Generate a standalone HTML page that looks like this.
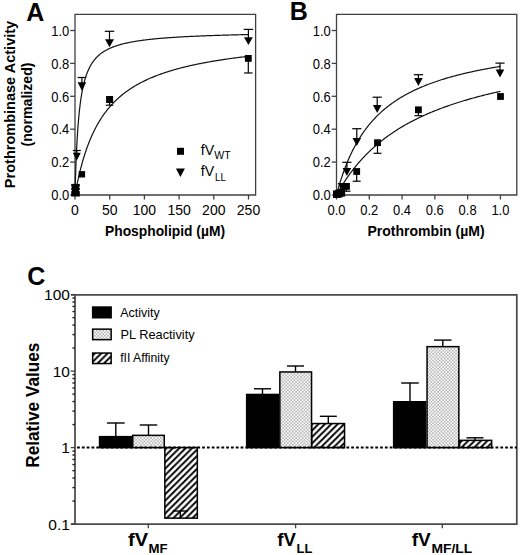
<!DOCTYPE html><html><head><meta charset="utf-8"><style>html,body{margin:0;padding:0;background:#fff;width:520px;height:555px;overflow:hidden}svg{display:block}</style></head><body><svg width="520" height="555" viewBox="0 0 520 555" font-family='"Liberation Sans", sans-serif'>
<defs>
<pattern id="hatch" patternUnits="userSpaceOnUse" width="6.4" height="6.4" x="0.2" y="0"><path d="M-1.6,1.6L1.6,-1.6M0,6.4L6.4,0M4.8,8L8,4.8" stroke="#000" stroke-width="1.9"/></pattern>
<pattern id="dots" patternUnits="userSpaceOnUse" width="3.3" height="3.3" x="0" y="0"><rect x="0.25" y="0.25" width="1.1" height="1.1" fill="#5a5a5a"/><rect x="1.9" y="1.9" width="1.1" height="1.1" fill="#5a5a5a"/></pattern>
</defs>
<rect width="520" height="555" fill="#fff"/>
<text x="26.2" y="20.5" font-size="25" text-anchor="start" font-weight="bold" >A</text>
<path d="M75,14.3H255.6V195H75Z" fill="none" stroke="#404040" stroke-width="1.3"/>
<line x1="70.20" y1="195.00" x2="75.00" y2="195.00" stroke="#404040" stroke-width="1.3" />
<text x="69.3" y="200.2" font-size="14" text-anchor="end" textLength="18" lengthAdjust="spacingAndGlyphs" >0.0</text>
<line x1="70.20" y1="162.10" x2="75.00" y2="162.10" stroke="#404040" stroke-width="1.3" />
<text x="69.3" y="167.3" font-size="14" text-anchor="end" textLength="18" lengthAdjust="spacingAndGlyphs" >0.2</text>
<line x1="70.20" y1="129.20" x2="75.00" y2="129.20" stroke="#404040" stroke-width="1.3" />
<text x="69.3" y="134.4" font-size="14" text-anchor="end" textLength="18" lengthAdjust="spacingAndGlyphs" >0.4</text>
<line x1="70.20" y1="96.30" x2="75.00" y2="96.30" stroke="#404040" stroke-width="1.3" />
<text x="69.3" y="101.5" font-size="14" text-anchor="end" textLength="18" lengthAdjust="spacingAndGlyphs" >0.6</text>
<line x1="70.20" y1="63.40" x2="75.00" y2="63.40" stroke="#404040" stroke-width="1.3" />
<text x="69.3" y="68.6" font-size="14" text-anchor="end" textLength="18" lengthAdjust="spacingAndGlyphs" >0.8</text>
<line x1="70.20" y1="30.50" x2="75.00" y2="30.50" stroke="#404040" stroke-width="1.3" />
<text x="69.3" y="35.7" font-size="14" text-anchor="end" textLength="18" lengthAdjust="spacingAndGlyphs" >1.0</text>
<line x1="75.00" y1="195.00" x2="75.00" y2="199.50" stroke="#404040" stroke-width="1.3" />
<text x="75.0" y="214.6" font-size="14" text-anchor="middle" >0</text>
<line x1="109.70" y1="195.00" x2="109.70" y2="199.50" stroke="#404040" stroke-width="1.3" />
<text x="109.7" y="214.6" font-size="14" text-anchor="middle" >50</text>
<line x1="144.40" y1="195.00" x2="144.40" y2="199.50" stroke="#404040" stroke-width="1.3" />
<text x="144.4" y="214.6" font-size="14" text-anchor="middle" >100</text>
<line x1="179.10" y1="195.00" x2="179.10" y2="199.50" stroke="#404040" stroke-width="1.3" />
<text x="179.1" y="214.6" font-size="14" text-anchor="middle" >150</text>
<line x1="213.80" y1="195.00" x2="213.80" y2="199.50" stroke="#404040" stroke-width="1.3" />
<text x="213.8" y="214.6" font-size="14" text-anchor="middle" >200</text>
<line x1="248.50" y1="195.00" x2="248.50" y2="199.50" stroke="#404040" stroke-width="1.3" />
<text x="248.5" y="214.6" font-size="14" text-anchor="middle" >250</text>
<polyline points="75.00,195.00 75.00,195.00 75.00,194.99 75.00,194.97 75.00,194.93 75.00,194.88 75.00,194.81 75.01,194.73 75.01,194.62 75.01,194.49 75.02,194.33 75.02,194.15 75.03,193.95 75.03,193.72 75.04,193.46 75.05,193.17 75.06,192.86 75.06,192.51 75.07,192.13 75.09,191.73 75.10,191.29 75.11,190.82 75.12,190.32 75.14,189.79 75.15,189.22 75.17,188.63 75.19,188.00 75.21,187.34 75.22,186.64 75.25,185.92 75.27,185.17 75.29,184.38 75.31,183.56 75.34,182.72 75.37,181.84 75.39,180.94 75.42,180.00 75.45,179.04 75.48,178.06 75.52,177.05 75.55,176.01 75.58,174.95 75.62,173.86 75.66,172.75 75.70,171.62 75.74,170.48 75.78,169.31 75.82,168.12 75.87,166.91 75.91,165.69 75.96,164.46 76.01,163.21 76.06,161.94 76.11,160.67 76.16,159.38 76.22,158.09 76.27,156.78 76.33,155.47 76.39,154.15 76.45,152.82 76.51,151.49 76.58,150.16 76.64,148.82 76.71,147.48 76.78,146.14 76.85,144.80 76.92,143.46 76.99,142.12 77.07,140.78 77.14,139.45 77.22,138.12 77.30,136.79 77.38,135.47 77.47,134.15 77.55,132.84 77.64,131.54 77.73,130.25 77.82,128.96 77.91,127.68 78.01,126.41 78.10,125.15 78.20,123.90 78.30,122.66 78.40,121.43 78.51,120.22 78.61,119.01 78.72,117.81 78.83,116.63 78.94,115.46 79.05,114.30 79.17,113.15 79.28,112.02 79.40,110.89 79.52,109.78 79.64,108.69 79.77,107.60 79.90,106.53 80.02,105.48 80.15,104.43 80.29,103.40 80.42,102.39 80.56,101.38 80.70,100.39 80.84,99.41 80.98,98.45 81.13,97.50 81.27,96.56 81.42,95.64 81.57,94.73 81.73,93.83 81.88,92.94 82.04,92.07 82.20,91.21 82.36,90.36 82.52,89.53 82.69,88.71 82.86,87.90 83.03,87.10 83.20,86.31 83.38,85.54 83.55,84.78 83.73,84.03 83.91,83.29 84.10,82.56 84.28,81.84 84.47,81.14 84.66,80.44 84.86,79.76 85.05,79.09 85.25,78.43 85.45,77.78 85.65,77.13 85.85,76.50 86.06,75.88 86.27,75.27 86.48,74.67 86.69,74.08 86.91,73.50 87.13,72.92 87.35,72.36 87.57,71.80 87.80,71.26 88.03,70.72 88.26,70.19 88.49,69.67 88.73,69.16 88.96,68.65 89.21,68.16 89.45,67.67 89.69,67.19 89.94,66.72 90.19,66.25 90.44,65.79 90.70,65.34 90.96,64.90 91.22,64.46 91.48,64.03 91.75,63.61 92.01,63.19 92.28,62.78 92.56,62.38 92.83,61.98 93.11,61.59 93.39,61.21 93.67,60.83 93.96,60.46 94.25,60.09 94.54,59.73 94.83,59.37 95.13,59.02 95.43,58.68 95.73,58.34 96.04,58.01 96.34,57.68 96.65,57.35 96.97,57.04 97.28,56.72 97.60,56.41 97.92,56.11 98.24,55.81 98.57,55.51 98.90,55.22 99.23,54.94 99.56,54.65 99.90,54.38 100.24,54.10 100.58,53.83 100.93,53.57 101.28,53.31 101.63,53.05 101.98,52.80 102.34,52.55 102.70,52.30 103.06,52.06 103.42,51.82 103.79,51.58 104.16,51.35 104.53,51.12 104.91,50.89 105.29,50.67 105.67,50.45 106.06,50.24 106.44,50.02 106.83,49.81 107.23,49.61 107.62,49.40 108.02,49.20 108.43,49.00 108.83,48.81 109.24,48.62 109.65,48.43 110.06,48.24 110.48,48.05 110.90,47.87 111.32,47.69 111.75,47.52 112.18,47.34 112.61,47.17 113.04,47.00 113.48,46.83 113.92,46.67 114.37,46.50 114.81,46.34 115.26,46.18 115.72,46.03 116.17,45.87 116.63,45.72 117.09,45.57 117.56,45.42 118.03,45.28 118.50,45.13 118.97,44.99 119.45,44.85 119.93,44.71 120.41,44.57 120.90,44.44 121.39,44.30 121.88,44.17 122.38,44.04 122.88,43.91 123.38,43.79 123.89,43.66 124.40,43.54 124.91,43.42 125.42,43.30 125.94,43.18 126.46,43.06 126.99,42.95 127.51,42.83 128.05,42.72 128.58,42.61 129.12,42.50 129.66,42.39 130.20,42.28 130.75,42.17 131.30,42.07 131.85,41.97 132.41,41.86 132.97,41.76 133.53,41.66 134.10,41.57 134.67,41.47 135.24,41.37 135.82,41.28 136.40,41.18 136.98,41.09 137.57,41.00 138.16,40.91 138.75,40.82 139.35,40.73 139.95,40.64 140.55,40.56 141.16,40.47 141.77,40.39 142.38,40.30 143.00,40.22 143.62,40.14 144.24,40.06 144.87,39.98 145.50,39.90 146.13,39.82 146.77,39.75 147.41,39.67 148.05,39.60 148.70,39.52 149.35,39.45 150.00,39.38 150.66,39.30 151.32,39.23 151.98,39.16 152.65,39.09 153.32,39.03 154.00,38.96 154.67,38.89 155.36,38.82 156.04,38.76 156.73,38.69 157.42,38.63 158.12,38.57 158.82,38.50 159.52,38.44 160.22,38.38 160.93,38.32 161.65,38.26 162.36,38.20 163.08,38.14 163.81,38.08 164.54,38.03 165.27,37.97 166.00,37.91 166.74,37.86 167.48,37.80 168.23,37.75 168.97,37.69 169.73,37.64 170.48,37.59 171.24,37.53 172.01,37.48 172.77,37.43 173.54,37.38 174.32,37.33 175.09,37.28 175.88,37.23 176.66,37.18 177.45,37.13 178.24,37.09 179.04,37.04 179.84,36.99 180.64,36.95 181.45,36.90 182.26,36.86 183.07,36.81 183.89,36.77 184.71,36.72 185.54,36.68 186.37,36.64 187.20,36.59 188.04,36.55 188.88,36.51 189.72,36.47 190.57,36.43 191.42,36.38 192.28,36.34 193.14,36.30 194.00,36.27 194.87,36.23 195.74,36.19 196.61,36.15 197.49,36.11 198.37,36.07 199.26,36.04 200.15,36.00 201.04,35.96 201.94,35.93 202.84,35.89 203.74,35.85 204.65,35.82 205.56,35.78 206.48,35.75 207.40,35.72 208.32,35.68 209.25,35.65 210.18,35.61 211.12,35.58 212.06,35.55 213.00,35.52 213.95,35.48 214.90,35.45 215.85,35.42 216.81,35.39 217.78,35.36 218.74,35.33 219.71,35.30 220.69,35.27 221.67,35.24 222.65,35.21 223.63,35.18 224.62,35.15 225.62,35.12 226.62,35.09 227.62,35.06 228.63,35.04 229.64,35.01 230.65,34.98 231.67,34.95 232.69,34.93 233.71,34.90 234.74,34.87 235.78,34.85 236.82,34.82 237.86,34.79 238.90,34.77 239.95,34.74 241.01,34.72 242.07,34.69 243.13,34.67 244.19,34.64 245.27,34.62 246.34,34.60 247.42,34.57 248.50,34.55" fill="none" stroke="#111" stroke-width="1.2"/>
<polyline points="75.00,195.00 75.00,194.99 75.00,194.98 75.01,194.95 75.02,194.90 75.03,194.85 75.04,194.78 75.05,194.71 75.07,194.62 75.09,194.51 75.11,194.40 75.13,194.27 75.16,194.14 75.18,193.99 75.21,193.83 75.24,193.65 75.28,193.47 75.31,193.28 75.35,193.07 75.39,192.85 75.43,192.62 75.48,192.38 75.52,192.13 75.57,191.87 75.62,191.60 75.68,191.32 75.73,191.03 75.79,190.72 75.85,190.41 75.91,190.08 75.98,189.75 76.04,189.41 76.11,189.05 76.18,188.69 76.25,188.32 76.33,187.94 76.41,187.55 76.48,187.15 76.57,186.74 76.65,186.32 76.73,185.90 76.82,185.46 76.91,185.02 77.01,184.57 77.10,184.11 77.20,183.65 77.29,183.18 77.40,182.70 77.50,182.21 77.60,181.71 77.71,181.21 77.82,180.70 77.93,180.19 78.05,179.67 78.16,179.14 78.28,178.61 78.40,178.07 78.52,177.53 78.65,176.98 78.77,176.42 78.90,175.86 79.03,175.30 79.17,174.73 79.30,174.15 79.44,173.57 79.58,172.99 79.72,172.40 79.87,171.81 80.01,171.22 80.16,170.62 80.31,170.02 80.47,169.41 80.62,168.80 80.78,168.19 80.94,167.58 81.10,166.96 81.26,166.34 81.43,165.72 81.60,165.09 81.77,164.47 81.94,163.84 82.11,163.21 82.29,162.58 82.47,161.94 82.65,161.31 82.83,160.67 83.02,160.04 83.21,159.40 83.40,158.76 83.59,158.12 83.78,157.48 83.98,156.84 84.18,156.20 84.38,155.56 84.58,154.91 84.79,154.27 84.99,153.63 85.20,152.99 85.41,152.35 85.63,151.71 85.84,151.06 86.06,150.42 86.28,149.79 86.50,149.15 86.73,148.51 86.96,147.87 87.18,147.24 87.42,146.60 87.65,145.97 87.88,145.33 88.12,144.70 88.36,144.07 88.60,143.44 88.85,142.82 89.09,142.19 89.34,141.57 89.59,140.95 89.84,140.33 90.10,139.71 90.36,139.09 90.61,138.48 90.88,137.86 91.14,137.25 91.41,136.65 91.67,136.04 91.94,135.44 92.22,134.83 92.49,134.24 92.77,133.64 93.05,133.04 93.33,132.45 93.61,131.86 93.89,131.28 94.18,130.69 94.47,130.11 94.76,129.53 95.06,128.95 95.35,128.38 95.65,127.81 95.95,127.24 96.25,126.67 96.56,126.11 96.87,125.55 97.17,124.99 97.49,124.44 97.80,123.89 98.11,123.34 98.43,122.79 98.75,122.25 99.07,121.71 99.40,121.17 99.72,120.64 100.05,120.10 100.38,119.58 100.72,119.05 101.05,118.53 101.39,118.01 101.73,117.49 102.07,116.98 102.41,116.47 102.76,115.96 103.11,115.46 103.46,114.95 103.81,114.46 104.17,113.96 104.52,113.47 104.88,112.98 105.24,112.49 105.61,112.01 105.97,111.53 106.34,111.05 106.71,110.58 107.08,110.10 107.45,109.64 107.83,109.17 108.21,108.71 108.59,108.25 108.97,107.79 109.36,107.34 109.74,106.89 110.13,106.44 110.53,106.00 110.92,105.55 111.31,105.11 111.71,104.68 112.11,104.25 112.52,103.82 112.92,103.39 113.33,102.96 113.73,102.54 114.15,102.12 114.56,101.71 114.97,101.29 115.39,100.88 115.81,100.48 116.23,100.07 116.66,99.67 117.08,99.27 117.51,98.88 117.94,98.48 118.38,98.09 118.81,97.70 119.25,97.32 119.69,96.93 120.13,96.55 120.57,96.18 121.02,95.80 121.46,95.43 121.91,95.06 122.37,94.69 122.82,94.33 123.28,93.97 123.74,93.61 124.20,93.25 124.66,92.90 125.13,92.55 125.59,92.20 126.06,91.85 126.53,91.51 127.01,91.16 127.48,90.82 127.96,90.49 128.44,90.15 128.92,89.82 129.41,89.49 129.90,89.16 130.39,88.84 130.88,88.52 131.37,88.19 131.87,87.88 132.36,87.56 132.86,87.25 133.37,86.94 133.87,86.63 134.38,86.32 134.88,86.01 135.40,85.71 135.91,85.41 136.42,85.11 136.94,84.82 137.46,84.52 137.98,84.23 138.51,83.94 139.03,83.65 139.56,83.37 140.09,83.08 140.62,82.80 141.16,82.52 141.69,82.25 142.23,81.97 142.77,81.70 143.32,81.43 143.86,81.16 144.41,80.89 144.96,80.62 145.51,80.36 146.07,80.10 146.62,79.84 147.18,79.58 147.74,79.32 148.30,79.07 148.87,78.81 149.44,78.56 150.01,78.31 150.58,78.07 151.15,77.82 151.73,77.58 152.30,77.33 152.88,77.09 153.47,76.85 154.05,76.62 154.64,76.38 155.23,76.15 155.82,75.92 156.41,75.69 157.01,75.46 157.60,75.23 158.20,75.00 158.80,74.78 159.41,74.56 160.01,74.34 160.62,74.12 161.23,73.90 161.85,73.68 162.46,73.47 163.08,73.26 163.70,73.04 164.32,72.83 164.94,72.63 165.57,72.42 166.20,72.21 166.83,72.01 167.46,71.81 168.09,71.60 168.73,71.40 169.37,71.20 170.01,71.01 170.65,70.81 171.30,70.62 171.94,70.42 172.59,70.23 173.25,70.04 173.90,69.85 174.56,69.66 175.21,69.48 175.87,69.29 176.54,69.11 177.20,68.92 177.87,68.74 178.54,68.56 179.21,68.38 179.88,68.21 180.56,68.03 181.24,67.85 181.92,67.68 182.60,67.51 183.28,67.33 183.97,67.16 184.66,66.99 185.35,66.82 186.04,66.66 186.74,66.49 187.43,66.33 188.13,66.16 188.83,66.00 189.54,65.84 190.24,65.68 190.95,65.52 191.66,65.36 192.37,65.20 193.09,65.04 193.81,64.89 194.52,64.73 195.25,64.58 195.97,64.43 196.69,64.28 197.42,64.13 198.15,63.98 198.88,63.83 199.62,63.68 200.35,63.54 201.09,63.39 201.83,63.25 202.58,63.10 203.32,62.96 204.07,62.82 204.82,62.68 205.57,62.54 206.32,62.40 207.08,62.26 207.84,62.12 208.60,61.99 209.36,61.85 210.12,61.72 210.89,61.58 211.66,61.45 212.43,61.32 213.20,61.19 213.98,61.06 214.76,60.93 215.53,60.80 216.32,60.67 217.10,60.55 217.89,60.42 218.68,60.30 219.47,60.17 220.26,60.05 221.05,59.92 221.85,59.80 222.65,59.68 223.45,59.56 224.25,59.44 225.06,59.32 225.87,59.20 226.68,59.09 227.49,58.97 228.30,58.85 229.12,58.74 229.94,58.62 230.76,58.51 231.58,58.40 232.41,58.28 233.24,58.17 234.07,58.06 234.90,57.95 235.73,57.84 236.57,57.73 237.41,57.62 238.25,57.52 239.09,57.41 239.93,57.30 240.78,57.20 241.63,57.09 242.48,56.99 243.33,56.88 244.19,56.78 245.05,56.68 245.91,56.58 246.77,56.47 247.63,56.37 248.50,56.27" fill="none" stroke="#111" stroke-width="1.2"/>
<line x1="109.50" y1="43.00" x2="109.50" y2="31.30" stroke="#000" stroke-width="1.2" />
<line x1="104.75" y1="31.30" x2="114.25" y2="31.30" stroke="#000" stroke-width="1.2" />
<path d="M105.00,39.20L114.00,39.20L109.50,47.20Z" fill="#000"/>
<line x1="248.40" y1="41.00" x2="248.40" y2="29.40" stroke="#000" stroke-width="1.2" />
<line x1="243.65" y1="29.40" x2="253.15" y2="29.40" stroke="#000" stroke-width="1.2" />
<path d="M244.00,37.20L252.80,37.20L248.40,45.00Z" fill="#000"/>
<line x1="81.90" y1="86.00" x2="81.90" y2="77.50" stroke="#000" stroke-width="1.2" />
<line x1="77.55" y1="77.50" x2="86.25" y2="77.50" stroke="#000" stroke-width="1.2" />
<path d="M77.60,82.30L86.20,82.30L81.90,90.80Z" fill="#000"/>
<line x1="76.80" y1="157.00" x2="76.80" y2="150.50" stroke="#000" stroke-width="1.2" />
<line x1="72.80" y1="150.50" x2="80.80" y2="150.50" stroke="#000" stroke-width="1.2" />
<path d="M72.80,152.70L80.80,152.70L76.80,160.50Z" fill="#000"/>
<rect x="106.10" y="96.00" width="7" height="7" fill="#000"/>
<line x1="109.60" y1="99.50" x2="109.60" y2="105.20" stroke="#000" stroke-width="1.2" />
<line x1="105.85" y1="105.20" x2="113.35" y2="105.20" stroke="#000" stroke-width="1.2" />
<rect x="244.90" y="55.00" width="6.8" height="6.8" fill="#000"/>
<line x1="248.30" y1="58.40" x2="248.30" y2="73.00" stroke="#000" stroke-width="1.2" />
<line x1="244.05" y1="73.00" x2="252.55" y2="73.00" stroke="#000" stroke-width="1.2" />
<rect x="78.70" y="171.10" width="6.4" height="6.4" fill="#000"/>
<rect x="71.2" y="183.9" width="8.6" height="12.6" fill="#000"/>
<rect x="70.9" y="186.6" width="1.0" height="1.1" fill="#fff"/>
<rect x="79.1" y="186.6" width="1.0" height="1.1" fill="#fff"/>
<rect x="70.9" y="190.0" width="1.0" height="1.1" fill="#fff"/>
<rect x="79.1" y="190.0" width="1.0" height="1.1" fill="#fff"/>
<rect x="177.00" y="147.80" width="7" height="7" fill="#000"/>
<path d="M175.90,168.50L184.90,168.50L180.40,177.10Z" fill="#000"/>
<text x="200.8" y="154.5" font-size="14.5" text-anchor="start" textLength="13.4" lengthAdjust="spacingAndGlyphs" >fV</text>
<text x="214.2" y="159.2" font-size="11.2" text-anchor="start" textLength="16.4" lengthAdjust="spacingAndGlyphs" >WT</text>
<text x="200.8" y="175.8" font-size="14.5" text-anchor="start" textLength="13.4" lengthAdjust="spacingAndGlyphs" >fV</text>
<text x="215" y="181.2" font-size="11.2" text-anchor="start" textLength="10.8" lengthAdjust="spacingAndGlyphs" >LL</text>
<text x="105" y="235.7" font-size="15" text-anchor="start" font-weight="bold" textLength="120" lengthAdjust="spacingAndGlyphs" >Phospholipid (µM)</text>
<g transform="translate(14.9,104.5) rotate(-90)">
<text x="0" y="0" font-size="15" text-anchor="middle" font-weight="bold" textLength="167.3" lengthAdjust="spacingAndGlyphs" >Prothrombinase Activity</text>
</g>
<g transform="translate(31.5,104.5) rotate(-90)">
<text x="0" y="0" font-size="15" text-anchor="middle" font-weight="bold" textLength="84" lengthAdjust="spacingAndGlyphs" >(normalized)</text>
</g>
<text x="289.8" y="20.2" font-size="25" text-anchor="start" font-weight="bold" >B</text>
<path d="M336.5,14.3H516.8V195H336.5Z" fill="none" stroke="#404040" stroke-width="1.3"/>
<line x1="331.70" y1="195.00" x2="336.50" y2="195.00" stroke="#404040" stroke-width="1.3" />
<text x="330.8" y="200.2" font-size="14" text-anchor="end" textLength="18" lengthAdjust="spacingAndGlyphs" >0.0</text>
<line x1="331.70" y1="162.10" x2="336.50" y2="162.10" stroke="#404040" stroke-width="1.3" />
<text x="330.8" y="167.3" font-size="14" text-anchor="end" textLength="18" lengthAdjust="spacingAndGlyphs" >0.2</text>
<line x1="331.70" y1="129.20" x2="336.50" y2="129.20" stroke="#404040" stroke-width="1.3" />
<text x="330.8" y="134.4" font-size="14" text-anchor="end" textLength="18" lengthAdjust="spacingAndGlyphs" >0.4</text>
<line x1="331.70" y1="96.30" x2="336.50" y2="96.30" stroke="#404040" stroke-width="1.3" />
<text x="330.8" y="101.5" font-size="14" text-anchor="end" textLength="18" lengthAdjust="spacingAndGlyphs" >0.6</text>
<line x1="331.70" y1="63.40" x2="336.50" y2="63.40" stroke="#404040" stroke-width="1.3" />
<text x="330.8" y="68.6" font-size="14" text-anchor="end" textLength="18" lengthAdjust="spacingAndGlyphs" >0.8</text>
<line x1="331.70" y1="30.50" x2="336.50" y2="30.50" stroke="#404040" stroke-width="1.3" />
<text x="330.8" y="35.7" font-size="14" text-anchor="end" textLength="18" lengthAdjust="spacingAndGlyphs" >1.0</text>
<line x1="336.50" y1="195.00" x2="336.50" y2="199.50" stroke="#404040" stroke-width="1.3" />
<text x="336.5" y="214.6" font-size="14" text-anchor="middle" textLength="18" lengthAdjust="spacingAndGlyphs" >0.0</text>
<line x1="369.28" y1="195.00" x2="369.28" y2="199.50" stroke="#404040" stroke-width="1.3" />
<text x="369.28" y="214.6" font-size="14" text-anchor="middle" textLength="18" lengthAdjust="spacingAndGlyphs" >0.2</text>
<line x1="402.06" y1="195.00" x2="402.06" y2="199.50" stroke="#404040" stroke-width="1.3" />
<text x="402.06" y="214.6" font-size="14" text-anchor="middle" textLength="18" lengthAdjust="spacingAndGlyphs" >0.4</text>
<line x1="434.84" y1="195.00" x2="434.84" y2="199.50" stroke="#404040" stroke-width="1.3" />
<text x="434.84" y="214.6" font-size="14" text-anchor="middle" textLength="18" lengthAdjust="spacingAndGlyphs" >0.6</text>
<line x1="467.62" y1="195.00" x2="467.62" y2="199.50" stroke="#404040" stroke-width="1.3" />
<text x="467.62" y="214.6" font-size="14" text-anchor="middle" textLength="18" lengthAdjust="spacingAndGlyphs" >0.8</text>
<line x1="500.40" y1="195.00" x2="500.40" y2="199.50" stroke="#404040" stroke-width="1.3" />
<text x="500.4" y="214.6" font-size="14" text-anchor="middle" textLength="18" lengthAdjust="spacingAndGlyphs" >1.0</text>
<polyline points="336.50,195.00 336.52,194.93 336.55,194.79 336.60,194.61 336.66,194.38 336.73,194.11 336.81,193.82 336.90,193.49 337.00,193.13 337.10,192.75 337.21,192.35 337.33,191.92 337.45,191.47 337.58,190.99 337.72,190.50 337.86,190.00 338.01,189.47 338.16,188.93 338.32,188.37 338.48,187.80 338.65,187.21 338.83,186.61 339.01,186.00 339.19,185.37 339.38,184.74 339.58,184.09 339.77,183.44 339.98,182.77 340.19,182.10 340.40,181.42 340.62,180.72 340.84,180.03 341.06,179.32 341.30,178.61 341.53,177.89 341.77,177.17 342.01,176.44 342.26,175.71 342.51,174.97 342.76,174.23 343.02,173.49 343.29,172.74 343.55,171.99 343.82,171.24 344.10,170.48 344.38,169.72 344.66,168.96 344.94,168.20 345.23,167.44 345.53,166.68 345.82,165.92 346.12,165.15 346.43,164.39 346.73,163.62 347.04,162.86 347.36,162.10 347.68,161.33 348.00,160.57 348.32,159.81 348.65,159.05 348.98,158.30 349.31,157.54 349.65,156.78 349.99,156.03 350.34,155.28 350.69,154.53 351.04,153.79 351.39,153.04 351.75,152.30 352.11,151.56 352.47,150.83 352.84,150.09 353.21,149.36 353.58,148.64 353.96,147.91 354.34,147.19 354.72,146.48 355.10,145.76 355.49,145.05 355.88,144.34 356.28,143.64 356.67,142.94 357.07,142.24 357.48,141.55 357.88,140.86 358.29,140.18 358.70,139.50 359.12,138.82 359.53,138.15 359.95,137.48 360.38,136.81 360.80,136.15 361.23,135.50 361.66,134.84 362.10,134.20 362.53,133.55 362.97,132.91 363.42,132.27 363.86,131.64 364.31,131.01 364.76,130.39 365.21,129.77 365.67,129.16 366.13,128.54 366.59,127.94 367.06,127.34 367.52,126.74 367.99,126.14 368.46,125.55 368.94,124.97 369.42,124.39 369.90,123.81 370.38,123.23 370.86,122.67 371.35,122.10 371.84,121.54 372.34,120.98 372.83,120.43 373.33,119.88 373.83,119.34 374.33,118.80 374.84,118.26 375.35,117.73 375.86,117.20 376.37,116.68 376.89,116.16 377.41,115.64 377.93,115.13 378.45,114.62 378.97,114.12 379.50,113.62 380.03,113.12 380.57,112.63 381.10,112.14 381.64,111.65 382.18,111.17 382.72,110.69 383.27,110.22 383.81,109.75 384.36,109.28 384.92,108.82 385.47,108.36 386.03,107.91 386.59,107.45 387.15,107.00 387.71,106.56 388.28,106.12 388.85,105.68 389.42,105.25 389.99,104.81 390.57,104.39 391.14,103.96 391.72,103.54 392.31,103.12 392.89,102.71 393.48,102.30 394.07,101.89 394.66,101.49 395.25,101.08 395.85,100.69 396.45,100.29 397.05,99.90 397.65,99.51 398.26,99.12 398.86,98.74 399.47,98.36 400.09,97.99 400.70,97.61 401.32,97.24 401.93,96.87 402.55,96.51 403.18,96.15 403.80,95.79 404.43,95.43 405.06,95.08 405.69,94.73 406.32,94.38 406.96,94.03 407.60,93.69 408.24,93.35 408.88,93.01 409.52,92.68 410.17,92.35 410.82,92.02 411.47,91.69 412.12,91.37 412.78,91.04 413.44,90.72 414.10,90.41 414.76,90.09 415.42,89.78 416.09,89.47 416.75,89.16 417.42,88.86 418.10,88.56 418.77,88.26 419.45,87.96 420.12,87.66 420.80,87.37 421.49,87.08 422.17,86.79 422.86,86.51 423.55,86.22 424.24,85.94 424.93,85.66 425.62,85.38 426.32,85.11 427.02,84.83 427.72,84.56 428.42,84.29 429.13,84.02 429.83,83.76 430.54,83.49 431.25,83.23 431.97,82.97 432.68,82.72 433.40,82.46 434.12,82.21 434.84,81.96 435.56,81.71 436.28,81.46 437.01,81.21 437.74,80.97 438.47,80.72 439.20,80.48 439.94,80.24 440.67,80.01 441.41,79.77 442.15,79.54 442.90,79.31 443.64,79.08 444.39,78.85 445.13,78.62 445.88,78.39 446.64,78.17 447.39,77.95 448.15,77.73 448.90,77.51 449.66,77.29 450.43,77.08 451.19,76.86 451.95,76.65 452.72,76.44 453.49,76.23 454.26,76.02 455.04,75.81 455.81,75.61 456.59,75.41 457.37,75.20 458.15,75.00 458.93,74.80 459.71,74.61 460.50,74.41 461.29,74.21 462.08,74.02 462.87,73.83 463.67,73.64 464.46,73.45 465.26,73.26 466.06,73.07 466.86,72.89 467.66,72.70 468.47,72.52 469.27,72.34 470.08,72.16 470.89,71.98 471.71,71.80 472.52,71.62 473.34,71.45 474.15,71.27 474.97,71.10 475.80,70.93 476.62,70.75 477.44,70.58 478.27,70.42 479.10,70.25 479.93,70.08 480.76,69.92 481.60,69.75 482.43,69.59 483.27,69.43 484.11,69.27 484.95,69.11 485.79,68.95 486.64,68.79 487.49,68.63 488.33,68.48 489.18,68.32 490.04,68.17 490.89,68.02 491.75,67.87 492.60,67.71 493.46,67.56 494.32,67.42 495.19,67.27 496.05,67.12 496.92,66.98 497.79,66.83 498.66,66.69 499.53,66.54 500.40,66.40" fill="none" stroke="#111" stroke-width="1.2"/>
<polyline points="336.50,195.00 336.52,194.97 336.55,194.90 336.60,194.81 336.66,194.70 336.73,194.57 336.81,194.43 336.90,194.27 337.00,194.10 337.10,193.91 337.21,193.71 337.33,193.50 337.45,193.28 337.58,193.05 337.72,192.81 337.86,192.56 338.01,192.30 338.16,192.03 338.32,191.75 338.48,191.46 338.65,191.17 338.83,190.86 339.01,190.55 339.19,190.23 339.38,189.91 339.58,189.58 339.77,189.24 339.98,188.89 340.19,188.54 340.40,188.19 340.62,187.82 340.84,187.46 341.06,187.08 341.30,186.70 341.53,186.32 341.77,185.93 342.01,185.54 342.26,185.14 342.51,184.74 342.76,184.33 343.02,183.92 343.29,183.51 343.55,183.09 343.82,182.67 344.10,182.25 344.38,181.82 344.66,181.39 344.94,180.95 345.23,180.51 345.53,180.07 345.82,179.63 346.12,179.19 346.43,178.74 346.73,178.29 347.04,177.83 347.36,177.38 347.68,176.92 348.00,176.47 348.32,176.00 348.65,175.54 348.98,175.08 349.31,174.61 349.65,174.15 349.99,173.68 350.34,173.21 350.69,172.74 351.04,172.27 351.39,171.79 351.75,171.32 352.11,170.85 352.47,170.37 352.84,169.90 353.21,169.42 353.58,168.94 353.96,168.47 354.34,167.99 354.72,167.51 355.10,167.03 355.49,166.55 355.88,166.07 356.28,165.59 356.67,165.11 357.07,164.64 357.48,164.16 357.88,163.68 358.29,163.20 358.70,162.72 359.12,162.24 359.53,161.76 359.95,161.29 360.38,160.81 360.80,160.33 361.23,159.86 361.66,159.38 362.10,158.91 362.53,158.43 362.97,157.96 363.42,157.49 363.86,157.01 364.31,156.54 364.76,156.07 365.21,155.60 365.67,155.14 366.13,154.67 366.59,154.20 367.06,153.74 367.52,153.27 367.99,152.81 368.46,152.34 368.94,151.88 369.42,151.42 369.90,150.96 370.38,150.51 370.86,150.05 371.35,149.59 371.84,149.14 372.34,148.69 372.83,148.24 373.33,147.78 373.83,147.34 374.33,146.89 374.84,146.44 375.35,146.00 375.86,145.55 376.37,145.11 376.89,144.67 377.41,144.23 377.93,143.80 378.45,143.36 378.97,142.92 379.50,142.49 380.03,142.06 380.57,141.63 381.10,141.20 381.64,140.77 382.18,140.35 382.72,139.93 383.27,139.50 383.81,139.08 384.36,138.66 384.92,138.25 385.47,137.83 386.03,137.42 386.59,137.00 387.15,136.59 387.71,136.18 388.28,135.78 388.85,135.37 389.42,134.97 389.99,134.57 390.57,134.16 391.14,133.77 391.72,133.37 392.31,132.97 392.89,132.58 393.48,132.19 394.07,131.79 394.66,131.41 395.25,131.02 395.85,130.63 396.45,130.25 397.05,129.87 397.65,129.49 398.26,129.11 398.86,128.73 399.47,128.35 400.09,127.98 400.70,127.61 401.32,127.24 401.93,126.87 402.55,126.50 403.18,126.14 403.80,125.77 404.43,125.41 405.06,125.05 405.69,124.69 406.32,124.34 406.96,123.98 407.60,123.63 408.24,123.27 408.88,122.92 409.52,122.58 410.17,122.23 410.82,121.88 411.47,121.54 412.12,121.20 412.78,120.86 413.44,120.52 414.10,120.18 414.76,119.85 415.42,119.51 416.09,119.18 416.75,118.85 417.42,118.52 418.10,118.19 418.77,117.87 419.45,117.54 420.12,117.22 420.80,116.90 421.49,116.58 422.17,116.26 422.86,115.94 423.55,115.63 424.24,115.32 424.93,115.00 425.62,114.69 426.32,114.39 427.02,114.08 427.72,113.77 428.42,113.47 429.13,113.17 429.83,112.87 430.54,112.57 431.25,112.27 431.97,111.97 432.68,111.68 433.40,111.38 434.12,111.09 434.84,110.80 435.56,110.51 436.28,110.22 437.01,109.94 437.74,109.65 438.47,109.37 439.20,109.09 439.94,108.81 440.67,108.53 441.41,108.25 442.15,107.97 442.90,107.70 443.64,107.43 444.39,107.15 445.13,106.88 445.88,106.61 446.64,106.35 447.39,106.08 448.15,105.81 448.90,105.55 449.66,105.29 450.43,105.03 451.19,104.77 451.95,104.51 452.72,104.25 453.49,103.99 454.26,103.74 455.04,103.49 455.81,103.23 456.59,102.98 457.37,102.73 458.15,102.49 458.93,102.24 459.71,101.99 460.50,101.75 461.29,101.50 462.08,101.26 462.87,101.02 463.67,100.78 464.46,100.54 465.26,100.31 466.06,100.07 466.86,99.84 467.66,99.60 468.47,99.37 469.27,99.14 470.08,98.91 470.89,98.68 471.71,98.45 472.52,98.23 473.34,98.00 474.15,97.78 474.97,97.55 475.80,97.33 476.62,97.11 477.44,96.89 478.27,96.67 479.10,96.45 479.93,96.24 480.76,96.02 481.60,95.81 482.43,95.59 483.27,95.38 484.11,95.17 484.95,94.96 485.79,94.75 486.64,94.54 487.49,94.34 488.33,94.13 489.18,93.93 490.04,93.72 490.89,93.52 491.75,93.32 492.60,93.12 493.46,92.92 494.32,92.72 495.19,92.52 496.05,92.32 496.92,92.13 497.79,91.93 498.66,91.74 499.53,91.55 500.40,91.35" fill="none" stroke="#111" stroke-width="1.2"/>
<line x1="356.80" y1="141.90" x2="356.80" y2="128.70" stroke="#000" stroke-width="1.2" />
<line x1="352.20" y1="128.70" x2="361.40" y2="128.70" stroke="#000" stroke-width="1.2" />
<path d="M352.50,137.90L361.10,137.90L356.80,145.90Z" fill="#000"/>
<line x1="377.20" y1="109.00" x2="377.20" y2="97.20" stroke="#000" stroke-width="1.2" />
<line x1="372.60" y1="97.20" x2="381.80" y2="97.20" stroke="#000" stroke-width="1.2" />
<path d="M372.90,105.00L381.50,105.00L377.20,113.00Z" fill="#000"/>
<line x1="418.40" y1="82.10" x2="418.40" y2="74.70" stroke="#000" stroke-width="1.2" />
<line x1="413.80" y1="74.70" x2="423.00" y2="74.70" stroke="#000" stroke-width="1.2" />
<path d="M414.10,78.10L422.70,78.10L418.40,86.10Z" fill="#000"/>
<line x1="500.00" y1="73.40" x2="500.00" y2="63.10" stroke="#000" stroke-width="1.2" />
<line x1="495.40" y1="63.10" x2="504.60" y2="63.10" stroke="#000" stroke-width="1.2" />
<path d="M495.70,69.40L504.30,69.40L500.00,77.40Z" fill="#000"/>
<line x1="346.90" y1="172.10" x2="346.90" y2="162.30" stroke="#000" stroke-width="1.2" />
<line x1="342.30" y1="162.30" x2="351.50" y2="162.30" stroke="#000" stroke-width="1.2" />
<path d="M342.60,168.10L351.20,168.10L346.90,176.10Z" fill="#000"/>
<path d="M337.70,183.00L346.30,183.00L342.00,191.00Z" fill="#000"/>
<line x1="377.50" y1="142.70" x2="377.50" y2="153.30" stroke="#000" stroke-width="1.2" />
<line x1="373.50" y1="153.30" x2="381.50" y2="153.30" stroke="#000" stroke-width="1.2" />
<rect x="374.10" y="139.30" width="6.8" height="6.8" fill="#000"/>
<line x1="418.40" y1="109.80" x2="418.40" y2="115.70" stroke="#000" stroke-width="1.2" />
<line x1="414.40" y1="115.70" x2="422.40" y2="115.70" stroke="#000" stroke-width="1.2" />
<rect x="415.00" y="106.40" width="6.8" height="6.8" fill="#000"/>
<rect x="497.10" y="93.10" width="6.8" height="6.8" fill="#000"/>
<line x1="356.70" y1="171.50" x2="356.70" y2="181.20" stroke="#000" stroke-width="1.2" />
<line x1="352.70" y1="181.20" x2="360.70" y2="181.20" stroke="#000" stroke-width="1.2" />
<rect x="353.30" y="168.10" width="6.8" height="6.8" fill="#000"/>
<line x1="346.50" y1="186.40" x2="346.50" y2="191.20" stroke="#000" stroke-width="1.2" />
<line x1="342.50" y1="191.20" x2="350.50" y2="191.20" stroke="#000" stroke-width="1.2" />
<rect x="343.10" y="183.00" width="6.8" height="6.8" fill="#000"/>
<rect x="333.00" y="190.40" width="7.6" height="7.6" fill="#000"/>
<rect x="335.20" y="189.80" width="7.6" height="7.6" fill="#000"/>
<rect x="337.50" y="189.00" width="7.6" height="7.6" fill="#000"/>
<text x="367.5" y="235.7" font-size="15" text-anchor="start" font-weight="bold" textLength="117.1" lengthAdjust="spacingAndGlyphs" >Prothrombin (µM)</text>
<text x="27.3" y="285.3" font-size="25" text-anchor="start" font-weight="bold" >C</text>
<path d="M71,294.8H516.8V524H71" fill="none" stroke="#4a4a4a" stroke-width="1.75"/>
<line x1="75.00" y1="294.80" x2="75.00" y2="524.00" stroke="#4a4a4a" stroke-width="1.75" />
<line x1="72.40" y1="501.07" x2="75.00" y2="501.07" stroke="#222" stroke-width="1.4" />
<line x1="72.40" y1="487.60" x2="75.00" y2="487.60" stroke="#222" stroke-width="1.4" />
<line x1="72.40" y1="478.04" x2="75.00" y2="478.04" stroke="#222" stroke-width="1.4" />
<line x1="72.40" y1="470.63" x2="75.00" y2="470.63" stroke="#222" stroke-width="1.4" />
<line x1="72.40" y1="464.57" x2="75.00" y2="464.57" stroke="#222" stroke-width="1.4" />
<line x1="72.40" y1="459.45" x2="75.00" y2="459.45" stroke="#222" stroke-width="1.4" />
<line x1="72.40" y1="455.01" x2="75.00" y2="455.01" stroke="#222" stroke-width="1.4" />
<line x1="72.40" y1="451.10" x2="75.00" y2="451.10" stroke="#222" stroke-width="1.4" />
<line x1="72.40" y1="424.57" x2="75.00" y2="424.57" stroke="#222" stroke-width="1.4" />
<line x1="72.40" y1="411.10" x2="75.00" y2="411.10" stroke="#222" stroke-width="1.4" />
<line x1="72.40" y1="401.54" x2="75.00" y2="401.54" stroke="#222" stroke-width="1.4" />
<line x1="72.40" y1="394.13" x2="75.00" y2="394.13" stroke="#222" stroke-width="1.4" />
<line x1="72.40" y1="388.07" x2="75.00" y2="388.07" stroke="#222" stroke-width="1.4" />
<line x1="72.40" y1="382.95" x2="75.00" y2="382.95" stroke="#222" stroke-width="1.4" />
<line x1="72.40" y1="378.51" x2="75.00" y2="378.51" stroke="#222" stroke-width="1.4" />
<line x1="72.40" y1="374.60" x2="75.00" y2="374.60" stroke="#222" stroke-width="1.4" />
<line x1="72.40" y1="348.07" x2="75.00" y2="348.07" stroke="#222" stroke-width="1.4" />
<line x1="72.40" y1="334.60" x2="75.00" y2="334.60" stroke="#222" stroke-width="1.4" />
<line x1="72.40" y1="325.04" x2="75.00" y2="325.04" stroke="#222" stroke-width="1.4" />
<line x1="72.40" y1="317.63" x2="75.00" y2="317.63" stroke="#222" stroke-width="1.4" />
<line x1="72.40" y1="311.57" x2="75.00" y2="311.57" stroke="#222" stroke-width="1.4" />
<line x1="72.40" y1="306.45" x2="75.00" y2="306.45" stroke="#222" stroke-width="1.4" />
<line x1="72.40" y1="302.01" x2="75.00" y2="302.01" stroke="#222" stroke-width="1.4" />
<line x1="72.40" y1="298.10" x2="75.00" y2="298.10" stroke="#222" stroke-width="1.4" />
<line x1="70.80" y1="294.60" x2="75.00" y2="294.60" stroke="#404040" stroke-width="1.3" />
<text x="69.9" y="300.1" font-size="15.5" text-anchor="end" >100</text>
<line x1="70.80" y1="371.10" x2="75.00" y2="371.10" stroke="#404040" stroke-width="1.3" />
<text x="69.9" y="376.6" font-size="15.5" text-anchor="end" >10</text>
<line x1="70.80" y1="447.60" x2="75.00" y2="447.60" stroke="#404040" stroke-width="1.3" />
<text x="69.9" y="453.1" font-size="15.5" text-anchor="end" >1</text>
<line x1="70.80" y1="524.10" x2="75.00" y2="524.10" stroke="#404040" stroke-width="1.3" />
<text x="69.9" y="529.6" font-size="15.5" text-anchor="end" >0.1</text>
<line x1="148.30" y1="524.00" x2="148.30" y2="528.30" stroke="#404040" stroke-width="1.3" />
<line x1="295.60" y1="524.00" x2="295.60" y2="528.30" stroke="#404040" stroke-width="1.3" />
<line x1="442.30" y1="524.00" x2="442.30" y2="528.30" stroke="#404040" stroke-width="1.3" />
<line x1="75.00" y1="447.50" x2="517.00" y2="447.50" stroke="#000" stroke-width="1.9" stroke-dasharray="2.8 2.01" stroke-dashoffset="2.77"/>
<line x1="115.80" y1="436.00" x2="115.80" y2="423.00" stroke="#000" stroke-width="1.4" />
<line x1="106.95" y1="423.00" x2="124.65" y2="423.00" stroke="#000" stroke-width="1.4" />
<rect x="98.80" y="435.90" width="33.20" height="12.50" fill="#000"/>
<line x1="148.50" y1="435.00" x2="148.50" y2="425.00" stroke="#000" stroke-width="1.4" />
<line x1="139.75" y1="425.00" x2="157.25" y2="425.00" stroke="#000" stroke-width="1.4" />
<rect x="132.75" y="435.35" width="31.50" height="12.30" fill="url(#dots)" stroke="#000" stroke-width="1.5"/>
<rect x="164.85" y="447.55" width="32.50" height="70.60" fill="url(#hatch)" stroke="#000" stroke-width="1.5"/>
<line x1="180.30" y1="518.00" x2="180.30" y2="511.00" stroke="#000" stroke-width="1.4" />
<line x1="172.55" y1="511.00" x2="188.05" y2="511.00" stroke="#000" stroke-width="1.4" />
<line x1="262.50" y1="394.00" x2="262.50" y2="388.80" stroke="#000" stroke-width="1.4" />
<line x1="254.00" y1="388.80" x2="271.00" y2="388.80" stroke="#000" stroke-width="1.4" />
<rect x="245.90" y="393.70" width="33.20" height="54.70" fill="#000"/>
<line x1="295.50" y1="372.00" x2="295.50" y2="366.00" stroke="#000" stroke-width="1.4" />
<line x1="287.00" y1="366.00" x2="304.00" y2="366.00" stroke="#000" stroke-width="1.4" />
<rect x="279.85" y="371.95" width="31.70" height="75.70" fill="url(#dots)" stroke="#000" stroke-width="1.5"/>
<line x1="328.30" y1="423.50" x2="328.30" y2="416.30" stroke="#000" stroke-width="1.4" />
<line x1="319.80" y1="416.30" x2="336.80" y2="416.30" stroke="#000" stroke-width="1.4" />
<rect x="311.75" y="423.55" width="32.80" height="24.10" fill="url(#hatch)" stroke="#000" stroke-width="1.5"/>
<line x1="410.00" y1="401.50" x2="410.00" y2="383.00" stroke="#000" stroke-width="1.4" />
<line x1="401.20" y1="383.00" x2="418.80" y2="383.00" stroke="#000" stroke-width="1.4" />
<rect x="392.90" y="401.00" width="33.40" height="47.40" fill="#000"/>
<line x1="442.80" y1="346.50" x2="442.80" y2="340.10" stroke="#000" stroke-width="1.4" />
<line x1="434.10" y1="340.10" x2="451.50" y2="340.10" stroke="#000" stroke-width="1.4" />
<rect x="427.05" y="346.65" width="31.80" height="101.00" fill="url(#dots)" stroke="#000" stroke-width="1.5"/>
<line x1="475.00" y1="440.00" x2="475.00" y2="437.80" stroke="#000" stroke-width="1.4" />
<line x1="466.50" y1="437.80" x2="483.50" y2="437.80" stroke="#000" stroke-width="1.4" />
<rect x="459.65" y="440.35" width="32.00" height="7.30" fill="url(#hatch)" stroke="#000" stroke-width="1.5"/>
<rect x="91.9" y="306.3" width="20" height="12.2" fill="#000"/>
<rect x="92.65" y="329.15" width="18.5" height="10.5" fill="url(#dots)" stroke="#000" stroke-width="1.5"/>
<rect x="92.65" y="353.05" width="18.5" height="10.5" fill="url(#hatch)" stroke="#000" stroke-width="1.5"/>
<text x="120.2" y="317.2" font-size="13.3" text-anchor="start" textLength="39.5" lengthAdjust="spacingAndGlyphs" >Activity</text>
<text x="120.5" y="338.9" font-size="13.3" text-anchor="start" textLength="74.1" lengthAdjust="spacingAndGlyphs" >PL Reactivity</text>
<text x="120.2" y="362.3" font-size="13.3" text-anchor="start" textLength="49.4" lengthAdjust="spacingAndGlyphs" >fII Affinity</text>
<g transform="translate(39.4,405.2) rotate(-90)">
<text x="0" y="0" font-size="17.6" text-anchor="middle" font-weight="bold" textLength="125" lengthAdjust="spacingAndGlyphs" >Relative Values</text>
</g>
<text x="128.0" y="545.8" font-size="18" text-anchor="start" font-weight="bold" textLength="20" lengthAdjust="spacingAndGlyphs" >fV</text>
<text x="148.6" y="552.7" font-size="13.5" text-anchor="start" font-weight="bold" textLength="19.1" lengthAdjust="spacingAndGlyphs" >MF</text>
<text x="277.3" y="545.8" font-size="18" text-anchor="start" font-weight="bold" textLength="18.6" lengthAdjust="spacingAndGlyphs" >fV</text>
<text x="296.5" y="552.7" font-size="13.5" text-anchor="start" font-weight="bold" textLength="15.8" lengthAdjust="spacingAndGlyphs" >LL</text>
<text x="411.8" y="545.8" font-size="18" text-anchor="start" font-weight="bold" textLength="19" lengthAdjust="spacingAndGlyphs" >fV</text>
<text x="431.4" y="552.7" font-size="13.5" text-anchor="start" font-weight="bold" textLength="40.8" lengthAdjust="spacingAndGlyphs" >MF/LL</text>
</svg></body></html>
